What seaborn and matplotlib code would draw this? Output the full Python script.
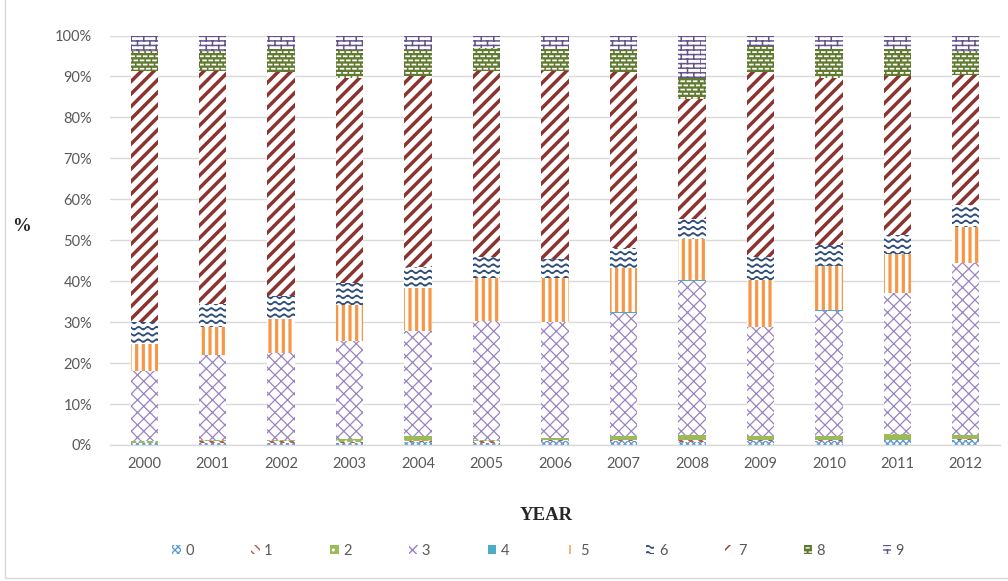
import warnings
import numpy as np
import pandas as pd
import matplotlib
matplotlib.use("Agg")
import matplotlib.pyplot as plt
import matplotlib.hatch as mhatch
from matplotlib.path import Path
from matplotlib.patches import Patch, Rectangle
from matplotlib.ticker import FuncFormatter
import seaborn as sns

warnings.filterwarnings("ignore")

# ---- data -----------------------------------------------------------------
years = ["2000", "2001", "2002", "2003", "2004", "2005", "2006",
         "2007", "2008", "2009", "2010", "2011", "2012"]
categories = ["0", "1", "2", "3", "4", "5", "6", "7", "8", "9"]

cat0 = [0.6, 0.5, 0.4, 0.6, 0.7, 0.6, 1.0, 1.0, 0.8, 1.0, 1.0, 1.2, 1.2]
cat1 = [0.0, 0.5, 0.5, 0.1, 0.3, 0.3, 0.2, 0.3, 0.3, 0.3, 0.3, 0.1, 0.3]
cat2 = [0.4, 0.3, 0.3, 0.8, 1.3, 0.3, 0.4, 1.0, 1.3, 0.8, 0.8, 1.3, 1.0]
cat3 = [17.0, 20.6, 21.2, 23.9, 25.6, 29.1, 28.4, 29.9, 37.6, 26.6, 30.7, 34.4, 42.0]
cat4 = [0.0, 0.0, 0.0, 0.0, 0.0, 0.0, 0.0, 0.2, 0.2, 0.2, 0.2, 0.0, 0.0]
cat5 = [6.6, 6.9, 8.3, 8.7, 10.4, 10.4, 10.7, 10.9, 10.2, 11.3, 10.6, 9.6, 8.7]
cat6 = [5.4, 5.6, 5.6, 5.5, 5.2, 5.2, 4.8, 4.9, 4.9, 5.6, 5.2, 4.6, 5.3]
cat7 = [61.3, 56.9, 54.7, 50.0, 46.6, 45.4, 45.8, 42.8, 29.3, 45.2, 40.9, 39.0, 31.9]
cat8 = [5.0, 5.0, 5.6, 6.9, 6.4, 5.6, 5.3, 5.4, 5.1, 6.5, 6.9, 6.4, 5.9]
cat9 = [3.7, 3.7, 3.4, 3.5, 3.5, 3.1, 3.4, 3.6, 10.3, 2.5, 3.4, 3.4, 3.7]

series = [cat0, cat1, cat2, cat3, cat4, cat5, cat6, cat7, cat8, cat9]

# ---- custom fill patterns (unit tile = 1 inch) ----------------------------
def _register(char, builder):
    class _Pattern(mhatch.HatchPatternBase):
        def __init__(self, hatch, density):
            self.segs = builder() if (hatch and char in hatch) else []
            self.num_vertices = sum(len(s) for s in self.segs)

        def set_vertices_and_codes(self, vertices, codes):
            i = 0
            for s in self.segs:
                n = len(s)
                vertices[i:i + n] = s
                codes[i] = Path.MOVETO
                codes[i + 1:i + n] = Path.LINETO
                i += n
    mhatch._hatch_types.append(_Pattern)


def _wave(rows=16, periods=11, amp=0.014):
    t = np.linspace(0, 1, periods * 8 + 1)
    segs = []
    for r in range(rows):
        y = (r + 0.5) / rows
        segs.append(np.column_stack([t, y + amp * np.sin(2 * np.pi * periods * t)]))
    return segs


def _brick(rows=22, bricks=8):
    segs = []
    for r in range(rows):
        y0, y1 = r / rows, (r + 1) / rows
        segs.append(np.array([[0, y0], [1, y0]]))
        off = 0 if r % 2 == 0 else 0.5 / bricks
        for b in range(bricks):
            x = off + b / bricks
            segs.append(np.array([[x, y0], [x, y1]]))
    return segs


def _diag(n=8, up=True):
    segs = []
    for k in range(2 * n + 1):
        c = -1 + k / n
        if up:
            segs.append(np.array([[c, 0], [c + 1, 1]]))
        else:
            segs.append(np.array([[c, 1], [c + 1, 0]]))
    return segs


def _vert(n=15):
    return [np.array([[(i + 0.5) / n, 0], [(i + 0.5) / n, 1]]) for i in range(n)]


def _lattice(n=8):
    return _diag(n, True) + _diag(n, False)


def _dashes(rows=24, per=16, frac=0.45):
    segs = []
    for r in range(rows):
        y = (r + 0.5) / rows
        off = 0 if r % 2 == 0 else 0.5 / per
        for b in range(per):
            x0 = off + b / per
            segs.append(np.array([[x0, y], [x0 + frac / per, y]]))
    return segs


_register("w", _wave)
_register("k", _brick)
_register("q", lambda: _diag(8, True))
_register("r", lambda: _diag(10, False))
_register("v", _vert)
_register("l", lambda: _lattice(8))
_register("m", lambda: _lattice(16))
_register("d", _dashes)

# face, hatch colour, hatch code, hatch linewidth (pt)
styles = {
    "0": dict(face="white", edge="#5B9BD5", hatch="m", hlw=1.0),
    "1": dict(face="white", edge="#C0504D", hatch="r", hlw=2.2),
    "2": dict(face="#9BBB59", edge="white", hatch="..", hlw=0.8),
    "3": dict(face="white", edge="#9A83C2", hatch="l", hlw=0.9),
    "4": dict(face="#4BACC6", edge="#4BACC6", hatch="", hlw=1.0),
    "5": dict(face="white", edge="#F79646", hatch="v", hlw=2.3),
    "6": dict(face="white", edge="#2F4F7A", hatch="w", hlw=1.2),
    "7": dict(face="white", edge="#8C3330", hatch="q", hlw=2.5),
    "8": dict(face="#5F7A2E", edge="white", hatch="d", hlw=1.3),
    "9": dict(face="white", edge="#65548A", hatch="k", hlw=1.1),
}


def _apply(p, st):
    p.set_facecolor(st["face"])
    p.set_edgecolor(st["edge"])
    p.set_linewidth(0)
    p.set_hatch(st["hatch"] if st["hatch"] else None)
    if hasattr(p, "set_hatch_linewidth"):
        p.set_hatch_linewidth(st["hlw"])


# ---- figure ---------------------------------------------------------------
sns.set_theme(style="white")
plt.rcParams["font.family"] = ["Lato", "DejaVu Sans"]

fig = plt.figure(figsize=(10.08, 5.81), dpi=100)
ax = fig.add_axes([110 / 1008, 1 - 445 / 581, 890 / 1008, 409.5 / 581])

cum = np.cumsum(np.array(series), axis=0)
df = pd.DataFrame(cum.T, columns=categories)
df["year"] = years

for k in range(len(categories) - 1, -1, -1):
    st = styles[categories[k]]
    plt.rcParams["hatch.linewidth"] = st["hlw"]
    n0 = len(ax.patches)
    sns.barplot(data=df, x="year", y=categories[k], order=years,
                color=st["face"], width=0.4, errorbar=None,
                saturation=1, ax=ax)
    for p in ax.patches[n0:]:
        _apply(p, st)

ax.set_xlim(-0.5, len(years) - 0.5)
ax.set_ylim(0, 100)
ax.set_yticks(np.arange(0, 101, 10))
ax.yaxis.set_major_formatter(FuncFormatter(lambda v, _: f"{v:.0f}%"))
ax.set_axisbelow(True)
ax.yaxis.grid(True, color="#D9D9D9", linewidth=1.0)
for s in ["top", "right", "left"]:
    ax.spines[s].set_visible(False)
ax.spines["bottom"].set_color("#D9D9D9")
ax.spines["bottom"].set_linewidth(1.0)
ax.tick_params(axis="both", length=0, labelsize=10.5, labelcolor="#595959")
ax.tick_params(axis="y", pad=13)
ax.tick_params(axis="x", pad=9)
ax.set_xlabel("")
ax.set_ylabel("")

fig.text(22 / 1008, 1 - 226 / 581, "%", fontsize=13.5, fontweight="bold",
         family="Liberation Serif", ha="center", va="center")
fig.text(546 / 1008, 1 - 515 / 581, "YEAR", fontsize=13.5, fontweight="bold",
         family="Liberation Serif", ha="center", va="center")

# legend
handles = []
for c in categories:
    st = styles[c]
    h = Patch(facecolor=st["face"], edgecolor=st["edge"], linewidth=0,
              hatch=st["hatch"] if st["hatch"] else None)
    if hasattr(h, "set_hatch_linewidth"):
        h.set_hatch_linewidth(st["hlw"])
    handles.append(h)
leg = fig.legend(handles, categories, loc="center",
                 bbox_to_anchor=(538 / 1008, 1 - 551 / 581), ncol=10,
                 frameon=False, fontsize=10.5, handlelength=0.6,
                 handleheight=0.6, handletextpad=0.3, columnspacing=3.93)
for t in leg.get_texts():
    t.set_color("#595959")

# chart border
fig.add_artist(Rectangle((5 / 1008, 3 / 581), 1.2, 1.2, transform=fig.transFigure,
                         fill=False, edgecolor="#D9D9D9", linewidth=1.0))

fig.savefig("out.png", dpi=100)
